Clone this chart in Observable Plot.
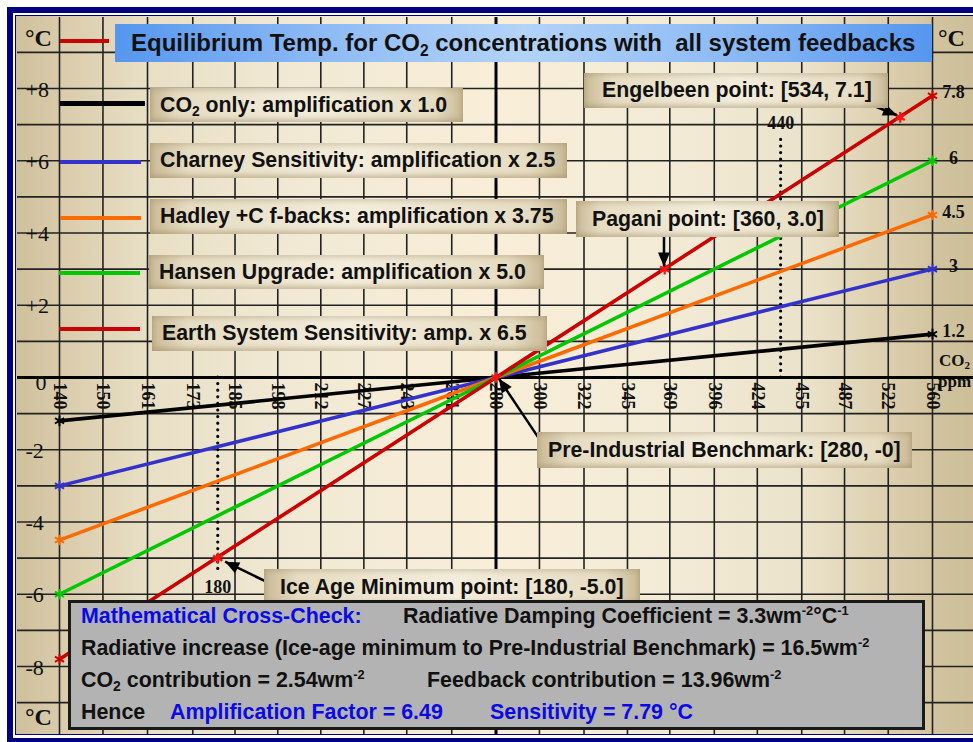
<!DOCTYPE html>
<html>
<head>
<meta charset="utf-8">
<script src="https://cdn.jsdelivr.net/npm/d3@7"></script>
<script src="https://cdn.jsdelivr.net/npm/@observablehq/plot@0.6"></script>
<style>
html,body{margin:0;padding:0;background:#fff;}
#chart{position:relative;width:973px;height:742px;overflow:hidden;background:#fff;font-family:"Liberation Sans",Arial,sans-serif;}
.abs{position:absolute;}
.outer{left:7px;top:7px;width:1000px;height:725px;border:6px solid #000080;}
.inner{left:15px;top:15px;width:1000px;height:718px;border:1.5px solid #000080;
  background:linear-gradient(90deg,#cfc09c 0px,#d9cbaa 42px,#e8dfc5 130px,#f1e9d4 280px,#f9eed8 480px,#f3ebd6 650px,#ebe2ca 790px,#dbcdab 880px,#d3c4a1 916px,#cdbe99 960px);}
.clip{left:17px;top:17px;width:960px;height:717px;overflow:hidden;}
#plot{position:absolute;left:-17px;top:-17px;}
.box{position:absolute;box-sizing:border-box;white-space:nowrap;font-weight:bold;font-size:21.3px;color:#111;
  background:linear-gradient(90deg,#c9b995 0%,#e6dcc2 9%,#f4eddc 50%,#e6dcc2 91%,#c9b995 100%);
  box-shadow:inset 0 -3px 5px rgba(150,130,90,.45), inset 0 3px 4px rgba(150,130,90,.25);}
.banner{position:absolute;box-sizing:border-box;white-space:nowrap;font-weight:bold;font-size:24px;color:#111;
  background:linear-gradient(90deg,#5596ef 0%,#8dbaf5 25%,#b3d3f8 50%,#8dbaf5 75%,#5596ef 100%);}
.seg{position:absolute;height:4px;}
.serif{position:absolute;font-family:"Liberation Serif","Times New Roman",serif;font-weight:bold;color:#111;white-space:nowrap;}
sub{font-size:0.65em;vertical-align:-0.3em;line-height:0;}
sup{font-size:0.6em;vertical-align:0.6em;line-height:0;}
.gray{position:absolute;box-sizing:border-box;left:68px;top:600px;width:857px;height:130px;border:3px solid #1a1a1a;background:#b3b3b3;font-weight:bold;font-size:21.4px;color:#111;}
.gray span.r{position:absolute;white-space:nowrap;line-height:24px;}
.blue{color:#0a0ae6;}
</style>
</head>
<body>
<div id="chart">
  <div class="abs outer"></div>
  <div class="abs inner"></div>
  <div class="abs clip"><div id="plot"></div></div>

  <div class="serif" style="left:25px;top:25px;font-size:24px;">°C</div>
  <div class="serif" style="left:938px;top:25px;font-size:24px;">°C</div>
  <div class="serif" style="left:25px;top:704px;font-size:24px;">°C</div>
  <div class="serif" style="left:939px;top:351px;font-size:17px;">CO<sub>2</sub></div>
  <div class="serif" style="left:938px;top:372px;font-size:17px;">ppm</div>

  <div class="banner" style="left:115px;top:24px;width:817px;height:38px;line-height:38px;padding-left:16px;">Equilibrium Temp. for CO<sub>2</sub> concentrations with&nbsp; all system feedbacks</div>

  <div class="seg" style="left:60px;top:39px;width:49px;background:#cc0000;"></div>
  <div class="seg" style="left:60px;top:101px;width:85px;height:5px;background:#000;"></div>
  <div class="seg" style="left:60px;top:160px;width:81px;background:#3333cc;"></div>
  <div class="seg" style="left:60px;top:216px;width:81px;background:#ff6a00;"></div>
  <div class="seg" style="left:59px;top:271px;width:81px;background:#00c800;"></div>
  <div class="seg" style="left:59px;top:327px;width:81px;background:#cc0000;"></div>

  <div class="box" style="left:150px;top:88px;width:313px;height:34px;line-height:34px;padding-left:10px;">CO<sub>2</sub> only: amplification x 1.0</div>
  <div class="box" style="left:150px;top:143px;width:417px;height:35px;line-height:35px;padding-left:10px;">Charney Sensitivity: amplification x 2.5</div>
  <div class="box" style="left:150px;top:199px;width:417px;height:35px;line-height:35px;padding-left:10px;">Hadley +C f-backs: amplification x 3.75</div>
  <div class="box" style="left:149px;top:255px;width:395px;height:34px;line-height:34px;padding-left:10px;">Hansen Upgrade: amplification x 5.0</div>
  <div class="box" style="left:152px;top:316px;width:395px;height:35px;line-height:35px;padding-left:10px;">Earth System Sensitivity: amp. x 6.5</div>

  <div class="box" style="left:584px;top:73px;width:304px;height:35px;line-height:35px;padding-left:18px;">Engelbeen point: [534, 7.1]</div>
  <div class="box" style="left:576px;top:201px;width:263px;height:36px;line-height:36px;padding-left:16px;">Pagani point: [360, 3.0]</div>
  <div class="box" style="left:537px;top:432px;width:375px;height:36px;line-height:36px;padding-left:11px;">Pre-Industrial Benchmark: [280, -0]</div>
  <div class="box" style="left:264px;top:569px;width:376px;height:36px;line-height:36px;padding-left:16px;">Ice Age Minimum point: [180, -5.0]</div>

  <div class="gray">
    <span class="r blue" style="left:10px;top:1px;">Mathematical Cross-Check:</span>
    <span class="r" style="left:332px;top:1px;">Radiative Damping Coefficient = 3.3wm<sup>-2</sup>°C<sup>-1</sup></span>
    <span class="r" style="left:10px;top:33px;">Radiative increase (Ice-age minimum to Pre-Industrial Benchmark) = 16.5wm<sup>-2</sup></span>
    <span class="r" style="left:10px;top:65px;">CO<sub>2</sub> contribution = 2.54wm<sup>-2</sup></span>
    <span class="r" style="left:356px;top:65px;">Feedback contribution = 13.96wm<sup>-2</sup></span>
    <span class="r" style="left:10px;top:97px;">Hence</span>
    <span class="r blue" style="left:99px;top:97px;">Amplification Factor = 6.49</span>
    <span class="r blue" style="left:419px;top:97px;">Sensitivity = 7.79 °C</span>
  </div>
</div>
<script>
// ---------- data ----------
const ppmTicks = [140,150,161,173,185,198,212,227,243,261,280,300,322,345,369,396,424,455,487,522,560];
const tempTicks = [-8,-6,-4,-2,0,2,4,6,8];
const gridTemps = [-9,-8,-7,-6,-5,-4,-3,-2,-1,1,2,3,4,5,6,7,8,9];

const seriesNames = ["CO2 only","Charney Sensitivity","Hadley +C f-backs","Hansen Upgrade","Earth System Sensitivity"];
const ppm = [140, 280, 560];
const co2Only     = [-1.2, 0, 1.2];
const charney     = [-3.0, 0, 3.0];
const hadley      = [-4.5, 0, 4.5];
const hansen      = [-6.0, 0, 6.0];
const earthSystem = [-7.8, 0, 7.8];
const endLabels   = ["1.2","3","4.5","6","7.8"];

const pointPpm  = [180, 280, 366, 532];
const pointTemp = [-5.0, 0, 3.0, 7.2];

const markPpm       = [180, 440];
const markFromTemp  = [0, 0];
const markToTemp    = [-5.45, 6.7];
const markLabelTemp = [-5.8, 7.05];

const arrowFromPpm  = [509.6, 365.6, 302.7, 196.2];
const arrowFromTemp = [7.53, 3.99, -1.94, -5.73];
const arrowToPpm    = [529.3, 365.6, 281.3, 182.1];
const arrowToTemp   = [7.26, 3.07, -0.03, -5.10];

// ---------- styles ----------
const seriesColors = ["#000000","#3333cc","#ff6a00","#00c800","#cc0000"];
const serif = "Liberation Serif, Times New Roman, serif";

// ---------- tables ----------
const allSeries = [co2Only, charney, hadley, hansen, earthSystem];
const lineData = [];
seriesNames.forEach((name, i) => ppm.forEach((p, j) => lineData.push({series: name, ppm: p, temp: allSeries[i][j]})));
const endData = lineData.filter(d => d.ppm !== 280);
const endLabelData = seriesNames.map((name, i) => ({ppm: ppm[2], temp: allSeries[i][2], label: endLabels[i]}));
const points = pointPpm.map((p, i) => ({ppm: p, temp: pointTemp[i]}));
const marks = markPpm.map((p, i) => ({ppm: p, y1: markFromTemp[i], y2: markToTemp[i], ly: markLabelTemp[i]}));
const arrows = arrowFromPpm.map((p, i) => ({x1: p, y1: arrowFromTemp[i], x2: arrowToPpm[i], y2: arrowToTemp[i]}));

const chart = Plot.plot({
  width: 973, height: 742,
  marginLeft: 59, marginRight: 41, marginTop: 88, marginBottom: 76,
  x: {type: "log", domain: [140, 560], axis: null},
  y: {domain: [-8, 8], axis: null},
  color: {domain: seriesNames, range: seriesColors},
  style: {background: "transparent", overflow: "visible"},
  marks: [
    Plot.ruleY(gridTemps, {y: d => d, x1: 128, x2: 640, stroke: "#222", strokeWidth: 1.6}),
    Plot.ruleX(ppmTicks, {x: d => d, y1: -10.3, y2: 10.3, stroke: "#222", strokeWidth: 1.6}),
    Plot.ruleY([0], {y: d => d, x1: 128, x2: 640, stroke: "#000", strokeWidth: 3}),
    Plot.ruleX([280], {x: d => d, y1: -10.3, y2: 10.3, stroke: "#000", strokeWidth: 3}),
    Plot.text(tempTicks.filter(d => d !== 0), {y: d => d, frameAnchor: "left", dx: -34, dy: 1, textAnchor: "start",
      text: d => (d > 0 ? "+" : "") + d, fontFamily: serif, fontSize: 22, fill: "#111"}),
    Plot.text(tempTicks.filter(d => d === 0), {y: d => d, frameAnchor: "left", dx: -24, dy: 5, textAnchor: "start",
      text: d => String(d), fontFamily: serif, fontSize: 22, fill: "#111"}),
    Plot.text(ppmTicks, {x: d => d, y: 0, text: d => String(d), rotate: 90, textAnchor: "start", lineAnchor: "middle",
      dy: 5, fontFamily: serif, fontWeight: "bold", fontSize: 18, fill: "#111"}),
    Plot.ruleX(marks, {x: "ppm", y1: "y1", y2: "y2", stroke: "#000", strokeWidth: 3.2, strokeDasharray: "0,6.6", strokeLinecap: "round"}),
    Plot.text(marks, {x: "ppm", y: "ly", text: d => String(d.ppm), fontFamily: serif, fontWeight: "bold", fontSize: 18, fill: "#111"}),
    Plot.line(lineData, {x: "ppm", y: "temp", z: "series", stroke: "series", strokeWidth: 3.6}),
    Plot.dot(endData, {x: "ppm", y: "temp", stroke: "series", symbol: "asterisk", r: 5, strokeWidth: 2}),
    Plot.dot(points, {x: "ppm", y: "temp", stroke: "#ff1010", symbol: "asterisk", r: 5, strokeWidth: 2.2}),
    Plot.text(endLabelData, {x: "ppm", y: "temp", text: "label", dx: 21, dy: -3, textAnchor: "middle",
      fontFamily: serif, fontWeight: "bold", fontSize: 18, fill: "#111"}),
    Plot.link(arrows, {x1: "x1", y1: "y1", x2: "x2", y2: "y2", stroke: "#000", strokeWidth: 2.5, markerEnd: "arrow"})
  ]
});

// filled arrow heads
chart.querySelectorAll("marker").forEach(m => {
  m.setAttribute("viewBox", "-15 -7 16 14");
  m.setAttribute("markerWidth", "16");
  m.setAttribute("markerHeight", "14");
  m.setAttribute("markerUnits", "userSpaceOnUse");
  m.setAttribute("fill", "#000");
  m.setAttribute("stroke", "none");
  const p = m.querySelector("path");
  if (p) p.setAttribute("d", "M-14,-6L0,0L-14,6Z");
});

document.getElementById("plot").appendChild(chart);
</script>
</body>
</html>
